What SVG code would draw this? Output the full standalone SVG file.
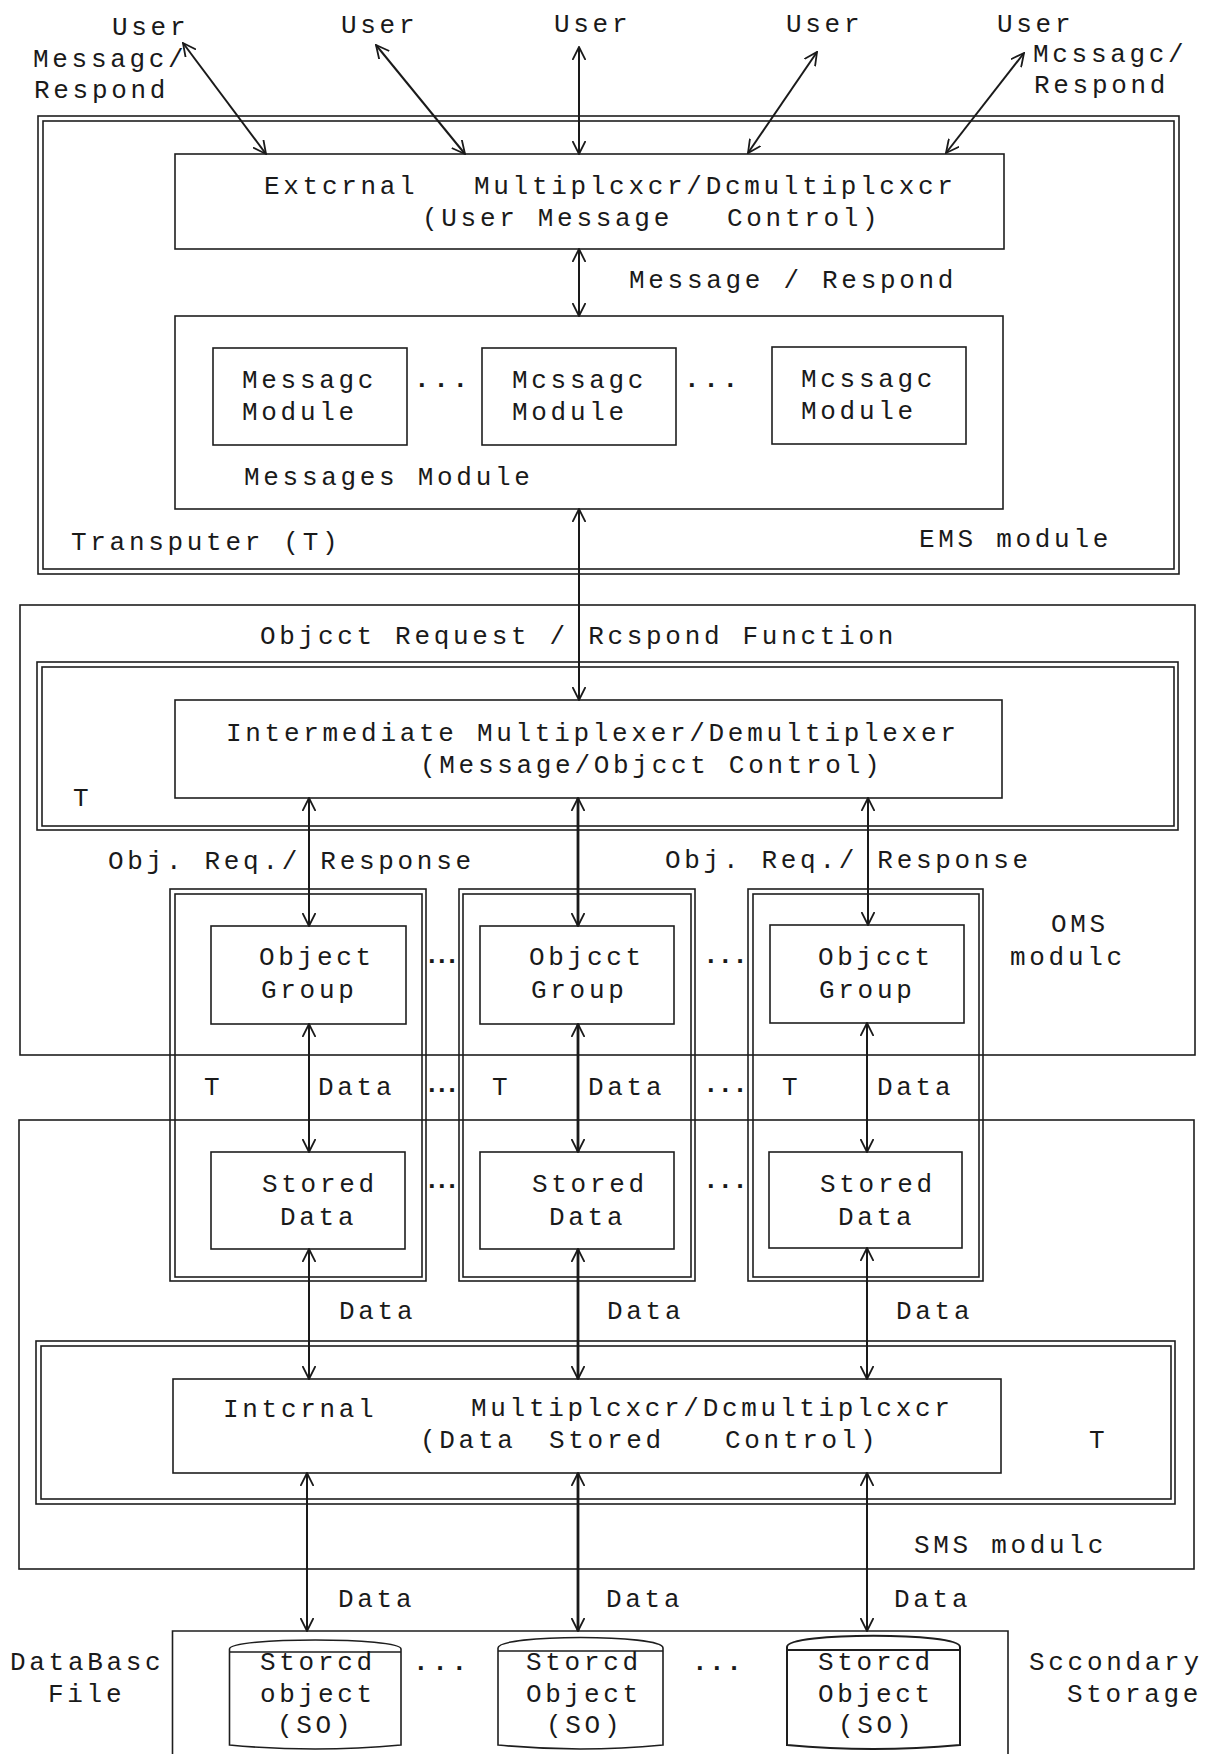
<svg xmlns="http://www.w3.org/2000/svg" width="1210" height="1754" viewBox="0 0 1210 1754">
  <style>
    .b { fill: none; stroke: #1e1e1e; stroke-width: 1.6; }
    .t { font-family: "Liberation Mono", "Courier New", monospace; font-size: 26px; letter-spacing: 3.7px; fill: #1a1a1a; }
    .dt { font-family: "Liberation Mono", "Courier New", monospace; font-size: 26px; font-weight: bold; letter-spacing: -5.5px; fill: #1a1a1a; }
    .dw { font-family: "Liberation Mono", "Courier New", monospace; font-size: 26px; font-weight: bold; letter-spacing: -1px; fill: #1a1a1a; }
    .c { fill: none; stroke: #1a1a1a; stroke-width: 2; marker-start: url(#arr); marker-end: url(#arr); }
    .cb { stroke-width: 2.8; }
  </style>
  <defs>
    <marker id="arr" viewBox="0 0 14 14" refX="13" refY="7" markerWidth="14" markerHeight="14" markerUnits="userSpaceOnUse" orient="auto-start-reverse">
      <path d="M0,0.5 L13,7 L0,13.5" fill="none" stroke="#1a1a1a" stroke-width="1.8"/>
    </marker>
  </defs>
  <rect width="1210" height="1754" fill="#ffffff"/>

  <!-- users -->
  <g id="user-1"><text class="t" x="112" y="35">User</text><text class="t" x="33" y="67">Messagc/</text><text class="t" x="34" y="98">Respond</text></g>
  <g id="user-2"><text class="t" x="341" y="33">User</text></g>
  <g id="user-3"><text class="t" x="554" y="32">User</text></g>
  <g id="user-4"><text class="t" x="786" y="32">User</text></g>
  <g id="user-5"><text class="t" x="997" y="32">User</text><text class="t" x="1033" y="62">Mcssagc/</text><text class="t" x="1034" y="93">Respond</text></g>

  <!-- EMS module -->
  <g id="ems-module">
    <rect class="b" x="38" y="116" width="1141" height="458"/>
    <rect class="b" x="43" y="121" width="1131" height="448"/>
    <text class="t" x="71" y="550">Transputer (T)</text>
    <text class="t" x="919" y="547">EMS module</text>
  </g>
  <g id="external-mux">
    <rect class="b" x="175" y="154" width="829" height="95"/>
    <text class="t" x="264" y="194">Extcrnal</text>
    <text class="t" x="474" y="194">Multiplcxcr/Dcmultiplcxcr</text>
    <text class="t" x="422" y="226">(User Message</text>
    <text class="t" x="727" y="226">Control)</text>
  </g>
  <g id="messages-module">
    <rect class="b" x="175" y="316" width="828" height="193"/>
    <text class="t" x="244" y="485">Messages Module</text>
    <text class="dw" x="414" y="387" style="letter-spacing:3.7px">...</text>
    <text class="dw" x="684" y="387" style="letter-spacing:3.7px">...</text>
  </g>
  <g id="message-module-1">
    <rect class="b" x="213" y="348" width="194" height="97"/>
    <text class="t" x="242" y="388">Messagc</text><text class="t" x="242" y="420">Module</text>
  </g>
  <g id="message-module-2">
    <rect class="b" x="482" y="348" width="194" height="97"/>
    <text class="t" x="512" y="388">Mcssagc</text><text class="t" x="512" y="420">Module</text>
  </g>
  <g id="message-module-3">
    <rect class="b" x="772" y="347" width="194" height="97"/>
    <text class="t" x="801" y="387">Mcssagc</text><text class="t" x="801" y="419">Module</text>
  </g>

  <!-- OMS module -->
  <g id="oms-module">
    <rect class="b" x="20" y="605" width="1175" height="450"/>
    <text class="t" x="260" y="644">Objcct Request / Rcspond Function</text>
    <text class="t" x="1051" y="932">OMS</text>
    <text class="t" x="1010" y="965">modulc</text>
  </g>
  <g id="intermediate-t">
    <rect class="b" x="37" y="662" width="1141" height="168"/>
    <rect class="b" x="42" y="667" width="1132" height="159"/>
    <text class="t" x="73" y="806">T</text>
  </g>
  <g id="intermediate-mux">
    <rect class="b" x="175" y="700" width="827" height="98"/>
    <text class="t" x="226" y="741">Intermediate Multiplexer/Demultiplexer</text>
    <text class="t" x="420" y="773">(Message/Objcct Control)</text>
  </g>

  <!-- transputer columns -->
  <g id="column-1">
    <rect class="b" x="170" y="889" width="256" height="392"/>
    <rect class="b" x="175" y="894" width="247" height="383"/>
    <text class="t" x="204" y="1095">T</text>
  </g>
  <g id="column-2">
    <rect class="b" x="459" y="889" width="236" height="392"/>
    <rect class="b" x="463" y="894" width="228" height="383"/>
    <text class="t" x="492" y="1095">T</text>
  </g>
  <g id="column-3">
    <rect class="b" x="748" y="889" width="235" height="392"/>
    <rect class="b" x="753" y="894" width="226" height="383"/>
    <text class="t" x="782" y="1095">T</text>
  </g>
  <g id="column-dots">
    <text class="dt" x="424" y="963">...</text>
    <text class="dt" x="424" y="1092">...</text>
    <text class="dt" x="424" y="1188">...</text>
    <text class="dw" x="703" y="963">...</text>
    <text class="dw" x="703" y="1092">...</text>
    <text class="dw" x="703" y="1188">...</text>
  </g>
  <g id="object-group-1">
    <rect class="b" x="211" y="926" width="195" height="98"/>
    <text class="t" x="259" y="965">Object</text><text class="t" x="261" y="998">Group</text>
  </g>
  <g id="object-group-2">
    <rect class="b" x="480" y="926" width="194" height="98"/>
    <text class="t" x="529" y="965">Objcct</text><text class="t" x="531" y="998">Group</text>
  </g>
  <g id="object-group-3">
    <rect class="b" x="770" y="925" width="194" height="98"/>
    <text class="t" x="818" y="965">Objcct</text><text class="t" x="819" y="998">Group</text>
  </g>
  <g id="stored-data-1">
    <rect class="b" x="211" y="1152" width="194" height="97"/>
    <text class="t" x="262" y="1192">Stored</text><text class="t" x="280" y="1225">Data</text>
  </g>
  <g id="stored-data-2">
    <rect class="b" x="480" y="1152" width="194" height="97"/>
    <text class="t" x="532" y="1192">Stored</text><text class="t" x="549" y="1225">Data</text>
  </g>
  <g id="stored-data-3">
    <rect class="b" x="769" y="1152" width="193" height="96"/>
    <text class="t" x="820" y="1192">Stored</text><text class="t" x="838" y="1225">Data</text>
  </g>

  <!-- SMS module -->
  <g id="sms-module">
    <rect class="b" x="19" y="1120" width="1175" height="449"/>
    <text class="t" x="914" y="1553">SMS modulc</text>
  </g>
  <g id="internal-t">
    <rect class="b" x="36" y="1341" width="1139" height="163"/>
    <rect class="b" x="41" y="1346" width="1130" height="153"/>
    <text class="t" x="1089" y="1448">T</text>
  </g>
  <g id="internal-mux">
    <rect class="b" x="173" y="1379" width="828" height="94"/>
    <text class="t" x="223" y="1417">Intcrnal</text>
    <text class="t" x="471" y="1416">Multiplcxcr/Dcmultiplcxcr</text>
    <text class="t" x="420" y="1448">(Data</text>
    <text class="t" x="549" y="1448">Stored</text>
    <text class="t" x="725" y="1448">Control)</text>
  </g>

  <!-- secondary storage -->
  <g id="secondary-storage">
    <path class="b" d="M172.5,1770 V1631 H1008 V1770"/>
    <text class="t" x="10" y="1670">DataBasc</text>
    <text class="t" x="48" y="1702">File</text>
    <text class="t" x="1029" y="1670">Sccondary</text>
    <text class="t" x="1067" y="1702">Storage</text>
    <text class="dw" x="413" y="1670" style="letter-spacing:3.7px">...</text>
    <text class="dw" x="692" y="1670" style="letter-spacing:1.5px">...</text>
  </g>
  <g id="stored-object-1">
    <path class="b" d="M229.5,1649 C229.5,1637 401,1637 401,1649 M229.5,1652 H401 M229.5,1649 V1745 Q315,1753 401,1745 V1649"/>
    <text class="t" x="260" y="1670">Storcd</text><text class="t" x="260" y="1702">object</text><text class="t" x="277" y="1733">(SO)</text>
  </g>
  <g id="stored-object-2">
    <path class="b" d="M498,1648 C498,1634 663,1634 663,1648 M498,1651 H663 M498,1648 V1745 Q580,1753 663,1745 V1648"/>
    <text class="t" x="526" y="1670">Storcd</text><text class="t" x="526" y="1702">Object</text><text class="t" x="546" y="1733">(SO)</text>
  </g>
  <g id="stored-object-3">
    <path class="b" d="M787,1647 C787,1632 960,1632 960,1647 M787,1650 H960 M787,1647 V1745 Q873,1753 960,1745 V1647" style="stroke-width:2"/>
    <text class="t" x="818" y="1670">Storcd</text><text class="t" x="818" y="1702">Object</text><text class="t" x="838" y="1733">(SO)</text>
  </g>

  <!-- connectors -->
  <g id="connectors">
    <line class="c" x1="183" y1="43" x2="266" y2="154"/>
    <line class="c" x1="376" y1="45" x2="465" y2="154"/>
    <line class="c" x1="579" y1="47" x2="579" y2="154"/>
    <line class="c" x1="817" y1="52" x2="748" y2="153"/>
    <line class="c" x1="1024" y1="53" x2="946" y2="153"/>
    <line class="c" x1="579" y1="249" x2="579" y2="316"/>
    <line class="c" x1="579" y1="509" x2="579" y2="700"/>
    <line class="c" x1="309" y1="798" x2="309" y2="926"/>
    <line class="c cb" x1="578" y1="798" x2="578" y2="926"/>
    <line class="c" x1="868" y1="798" x2="868" y2="925"/>
    <line class="c" x1="309" y1="1024" x2="309" y2="1152"/>
    <line class="c cb" x1="578" y1="1024" x2="578" y2="1152"/>
    <line class="c" x1="867" y1="1023" x2="867" y2="1152"/>
    <line class="c" x1="309" y1="1249" x2="309" y2="1379"/>
    <line class="c cb" x1="578" y1="1249" x2="578" y2="1379"/>
    <line class="c" x1="867" y1="1248" x2="867" y2="1379"/>
    <line class="c" x1="307" y1="1473" x2="307" y2="1631"/>
    <line class="c cb" x1="578" y1="1473" x2="578" y2="1631"/>
    <line class="c" x1="867" y1="1473" x2="867" y2="1631"/>
  </g>
  <g id="connector-labels">
    <text class="t" x="629" y="288">Message / Respond</text>
    <text class="t" x="108" y="869">Obj. Req./ Response</text>
    <text class="t" x="665" y="868">Obj. Req./ Response</text>
    <text class="t" x="318" y="1095">Data</text>
    <text class="t" x="588" y="1095">Data</text>
    <text class="t" x="877" y="1095">Data</text>
    <text class="t" x="339" y="1319">Data</text>
    <text class="t" x="607" y="1319">Data</text>
    <text class="t" x="896" y="1319">Data</text>
    <text class="t" x="338" y="1607">Data</text>
    <text class="t" x="606" y="1607">Data</text>
    <text class="t" x="894" y="1607">Data</text>
  </g>
</svg>
